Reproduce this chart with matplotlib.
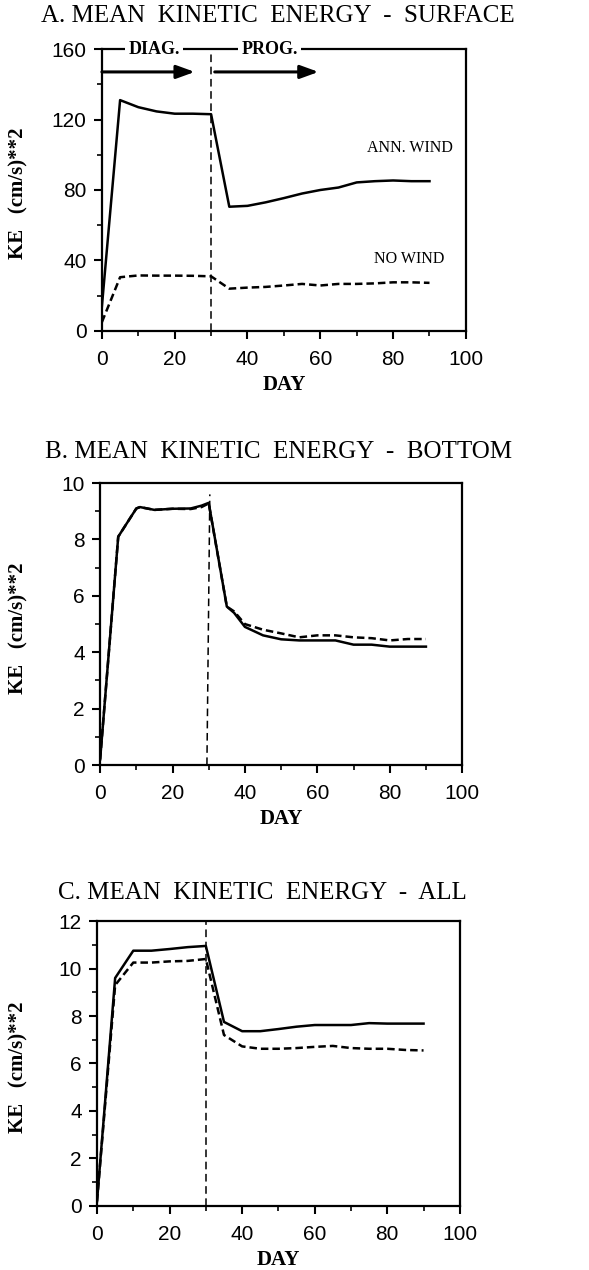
#!/usr/bin/env python3
"""
Mean kinetic energy time series - surface, bottom, all
"""

import matplotlib
matplotlib.use('Agg')
import matplotlib.pyplot as plt
from matplotlib.ticker import MultipleLocator

# ---- data ----
days = [0, 5, 10, 15, 20, 25, 30, 35, 40, 45, 50, 55, 60, 65, 70, 75, 80, 85, 90]

surf_wind = [14, 131, 127, 124.6, 123.3, 123.3, 123, 70.5, 71, 73, 75.4, 78,
             80, 81.4, 84.3, 85, 85.4, 85, 85]
surf_nowind = [5, 30.5, 31.5, 31.4, 31.4, 31.3, 31, 24, 24.6, 25, 25.8, 26.7,
               25.8, 26.7, 26.7, 27, 27.6, 27.6, 27.3]

bot_days = [0, 5, 8, 10, 11, 15, 20, 25, 28, 30, 35, 37, 40, 45, 50, 55, 60,
            65, 70, 75, 80, 85, 90]
bot_wind = [0.2, 8.1, 8.7, 9.1, 9.15, 9.05, 9.09, 9.1, 9.2, 9.3, 5.62, 5.4,
            4.9, 4.6, 4.46, 4.42, 4.42, 4.42, 4.27, 4.27, 4.2, 4.2, 4.2]
bot_nowind = [0.2, 8.1, 8.7, 9.1, 9.15, 9.05, 9.09, 9.08, 9.15, 9.28, 5.62, 5.45,
              5.0, 4.8, 4.67, 4.53, 4.6, 4.6, 4.53, 4.5, 4.42, 4.47, 4.47]

all_wind = [0.2, 9.6, 10.75, 10.75, 10.82, 10.9, 10.95, 7.75, 7.36, 7.36, 7.45,
            7.55, 7.62, 7.62, 7.62, 7.7, 7.68, 7.68, 7.68]
all_nowind = [0.2, 9.3, 10.25, 10.25, 10.3, 10.32, 10.4, 7.2, 6.72, 6.62, 6.62,
              6.65, 6.7, 6.74, 6.65, 6.62, 6.62, 6.57, 6.55]

panel_titles = ['A. MEAN  KINETIC  ENERGY  -  SURFACE',
                'B. MEAN  KINETIC  ENERGY  -  BOTTOM',
                'C. MEAN  KINETIC  ENERGY  -  ALL']
xticks = [0, 20, 40, 60, 80, 100]

SERIF = ['Liberation Serif', 'DejaVu Serif']
SANS = ['Liberation Sans', 'DejaVu Sans']


def style_axes(ax, ymax, ymajor, yminor):
    ax.set_xlim(0, 100)
    ax.set_ylim(0, ymax)
    ax.set_xticks(xticks)
    ax.xaxis.set_minor_locator(MultipleLocator(10))
    ax.yaxis.set_major_locator(MultipleLocator(ymajor))
    ax.yaxis.set_minor_locator(MultipleLocator(yminor))
    ax.tick_params(which='major', direction='out', length=6, width=1.5,
                   labelsize=15, pad=5)
    ax.tick_params(axis='x', which='major', pad=8)
    ax.tick_params(which='minor', direction='out', length=3.5, width=1.2)
    for lab in ax.get_xticklabels() + ax.get_yticklabels():
        lab.set_family(SANS)
    for sp in ax.spines.values():
        sp.set_linewidth(1.6)
    ax.set_xlabel('DAY', family=SERIF, fontweight='bold', fontsize=15,
                  labelpad=4)


fig = plt.figure(figsize=(5.89, 12.7), dpi=100)

axA = fig.add_axes([0.173, 0.7394, 0.618, 0.222])
axB = fig.add_axes([0.170, 0.3976, 0.6146, 0.222])
axC = fig.add_axes([0.1647, 0.0504, 0.616, 0.2244])

solid_kw = dict(color='black', lw=1.8, solid_joinstyle='round')
dash_kw = dict(color='black', lw=1.8, linestyle=(0, (3, 1.6)))

# ---- panel A ----
axA.plot(days, surf_wind, **solid_kw)
axA.plot(days, surf_nowind, **dash_kw)
axA.axvline(30, color='black', lw=1.1, linestyle=(0, (5, 3)))
style_axes(axA, 160, 40, 20)
axA.text(84.5, 104, 'ANN. WIND', family=SERIF, fontsize=11.5, ha='center',
         va='center')
axA.text(84.5, 41, 'NO WIND', family=SERIF, fontsize=11.5, ha='center',
         va='center')
arrow_props = dict(arrowstyle='-|>,head_length=1.1,head_width=0.4',
                   color='black', lw=2.2, shrinkA=0, shrinkB=0)
axA.annotate('', xy=(25.5, 147), xytext=(0, 147), arrowprops=arrow_props)
axA.annotate('', xy=(59.5, 147), xytext=(31, 147), arrowprops=arrow_props)
for label, xpos in [('DIAG.', 14.3), ('PROG.', 46)]:
    axA.text(xpos, 160, label, family=SERIF, fontweight='bold',
             fontsize=13, ha='center', va='center', zorder=10,
             clip_on=False,
             bbox=dict(boxstyle='square,pad=0.2', facecolor='white',
                       edgecolor='none'))

# ---- panel B ----
axB.plot(bot_days, bot_wind, **solid_kw)
axB.plot(bot_days, bot_nowind, **dash_kw)
axB.plot([29.5, 30.3], [0, 9.6], color='black', lw=1.1,
         linestyle=(0, (5, 3)))
style_axes(axB, 10, 2, 1)

# ---- panel C ----
axC.plot(days, all_wind, **solid_kw)
axC.plot(days, all_nowind, **dash_kw)
axC.axvline(30, color='black', lw=1.1, linestyle=(0, (5, 3)))
style_axes(axC, 12, 2, 1)

# ---- titles and y labels ----
H = 1270.0
W = 589.0
for title, (xc, yc) in zip(panel_titles, [(278, 16), (279, 452), (262, 893)]):
    fig.text(xc / W, 1 - yc / H, title, family=SERIF, fontsize=18,
             ha='center', va='center')
for yc in [193, 628, 1067]:
    fig.text(18 / W, 1 - yc / H, 'KE   (cm/s)**2', family=SERIF,
             fontweight='bold', fontsize=15, rotation=90, ha='center',
             va='center')

fig.savefig('out.png', dpi=100)
